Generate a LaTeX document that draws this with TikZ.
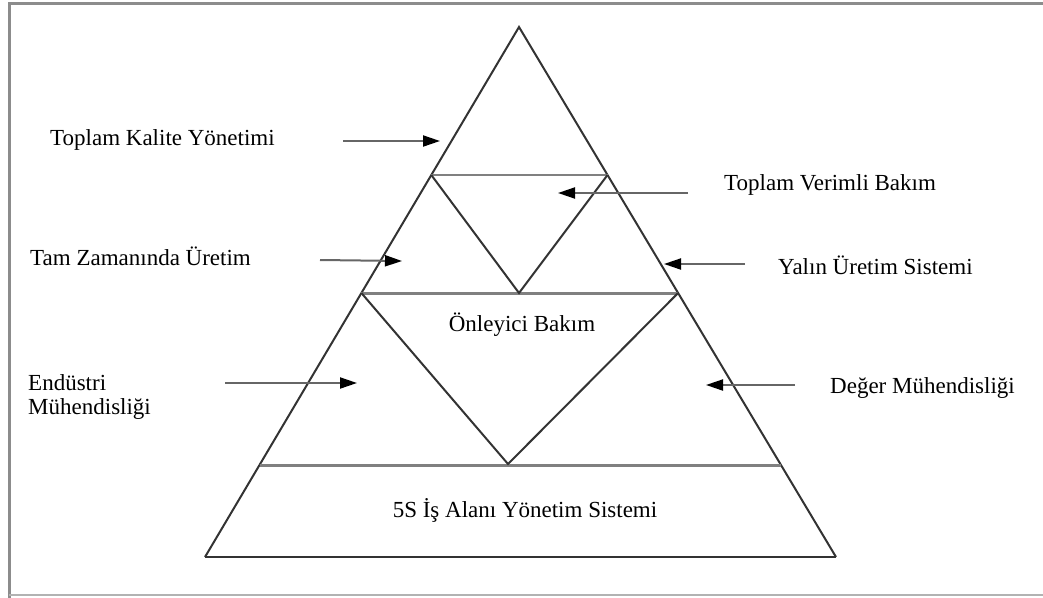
\documentclass[tikz,border=0pt]{standalone}
\usepackage{fontspec}
\setmainfont{Liberation Serif}
\usetikzlibrary{arrows.meta,calc}
\tikzset{
  frameline/.style={draw=black!45,line width=3pt},
  side/.style={draw=black!80,line width=2pt},
  shelf/.style={draw=black!50,line width=3pt},
  thinshelf/.style={draw=black!50,line width=1.6pt},
  pointer/.style={draw=black!60,line width=2pt,-{Triangle[length=17pt,width=11pt,fill=black,color=black]}},
  lbl/.style={font=\fontsize{23}{24.5}\selectfont,inner sep=0pt,text=black},
}
\begin{document}
\begin{tikzpicture}[x=1pt,y=-1pt]
\useasboundingbox (0,0) rectangle (1043,597);
% frame
\draw[frameline] (9,598) -- (9,3) -- (1044,3);
\draw[draw=black!30,line width=1.5pt] (9,595) -- (1044,595);
% pyramid vertices
\coordinate (A) at (519,27);
\coordinate (BL) at (205,557);
\coordinate (BR) at (836,557);
\coordinate (L1) at (431.3,175);
\coordinate (R1) at (607.5,175);
\coordinate (L2) at (361.4,293);
\coordinate (R2) at (678.1,293);
\coordinate (L3) at (259.5,465);
\coordinate (R3) at (781,465);
\coordinate (V1) at (519,293);
\coordinate (V2) at (508,464);
% outline
\draw[side] (BL) -- (A) -- (BR);
\draw[side] (BL) -- (BR);
% shelves
\draw[thinshelf] (L1) -- (R1);
\draw[shelf] (L2) -- (R2);
\draw[shelf] (L3) -- (R3);
% inverted triangles
\draw[side] (L1) -- (V1) -- (R1);
\draw[side] (L2) -- (V2) -- (R2);
% labels
\node[lbl,anchor=west] (tky) at (50,140) {Toplam Kalite Yönetimi};
\node[lbl,anchor=west] (tvb) at (724,185) {Toplam Verimli Bakım};
\node[lbl,anchor=west] (tzu) at (30,256) {Tam Zamanında Üretim};
\node[lbl,anchor=west] (yus) at (778,265) {Yalın Üretim Sistemi};
\node[lbl] (ob) at (522,325) {Önleyici Bakım};
\node[lbl,anchor=west,align=left] (em) at (28,397) {Endüstri\\Mühendisliği};
\node[lbl,anchor=west] (dm) at (830,388) {Değer Mühendisliği};
\node[lbl] (five) at (525,510) {5S İş Alanı Yönetim Sistemi};
% arrow ends
\coordinate (a1s) at (343,141); \coordinate (a1e) at (440,141);
\coordinate (a2s) at (688,193); \coordinate (a2e) at (558,193);
\coordinate (a3s) at (320,260); \coordinate (a3e) at (402,261);
\coordinate (a4s) at (745,264); \coordinate (a4e) at (664,264);
\coordinate (a5s) at (225,383); \coordinate (a5e) at (357,383);
\coordinate (a6s) at (795,385); \coordinate (a6e) at (706,385);
\draw[pointer] (a1s) -- (a1e);
\draw[pointer] (a2s) -- (a2e);
\draw[pointer] (a3s) -- (a3e);
\draw[pointer] (a4s) -- (a4e);
\draw[pointer] (a5s) -- (a5e);
\draw[pointer] (a6s) -- (a6e);
\end{tikzpicture}
\end{document}
